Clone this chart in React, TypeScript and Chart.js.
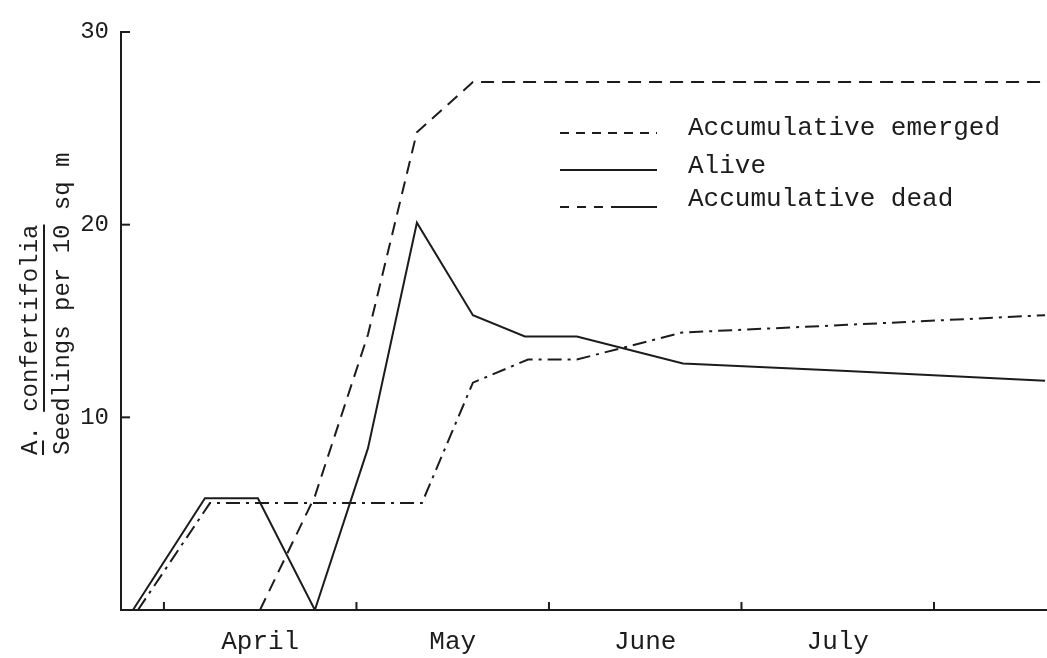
import React, { useEffect, useRef } from 'react';
import { Chart, registerables } from 'chart.js';

Chart.register(...registerables);

// x values are months counted from 1 April (0 = 1 Apr, 1 = 1 May, ...)
const monthLabels = ['April', 'May', 'June', 'July'];
const monthLabelPos = [0.5, 1.5, 2.5, 3.5];
const monthBoundaries = [0, 1, 2, 3, 4];
const yTicks = [10, 20, 30];

const emergedX = [0.499, 0.784, 1.06, 1.314, 1.605, 4.577];
const emergedY = [0, 5.9, 14.3, 24.8, 27.4, 27.4];

const aliveX = [-0.161, 0.213, 0.488, 0.784, 1.06, 1.314, 1.605, 1.875, 2.145, 2.696, 3.548, 4.577];
const aliveY = [0, 5.8, 5.8, 0, 8.4, 20.1, 15.3, 14.2, 14.2, 12.8, 12.4, 11.9];

const deadX = [-0.135, 0.239, 1.34, 1.605, 1.891, 2.145, 2.691, 3.548, 4.577];
const deadY = [0, 5.55, 5.55, 11.8, 13.0, 13.0, 14.4, 14.8, 15.3];

const seriesNames = ['Accumulative emerged', 'Alive', 'Accumulative dead'];

const INK = '#1c1c1c';
const FONT = '"Liberation Mono", "DejaVu Sans Mono", monospace';

const pts = (xs: number[], ys: number[]) => xs.map((x, i) => ({ x, y: ys[i] }));

const innerTicks = {
  id: 'innerTicks',
  afterDraw(chart: any) {
    const { ctx, chartArea, scales } = chart;
    const x = scales.x;
    const y = scales.y;
    ctx.save();
    ctx.strokeStyle = INK;
    ctx.lineWidth = 2;
    monthBoundaries.forEach((v) => {
      const px = x.getPixelForValue(v);
      ctx.beginPath();
      ctx.moveTo(px, chartArea.bottom);
      ctx.lineTo(px, chartArea.bottom - 8);
      ctx.stroke();
    });
    yTicks.forEach((v) => {
      const py = y.getPixelForValue(v);
      ctx.beginPath();
      ctx.moveTo(chartArea.left, py);
      ctx.lineTo(chartArea.left + 9, py);
      ctx.stroke();
    });
    ctx.restore();
  },
};

const customLegend = {
  id: 'customLegend',
  afterDraw(chart: any) {
    const { ctx } = chart;
    const rows = [
      { dash: [9, 7], text: seriesNames[0], lineY: 133, textY: 128 },
      { dash: [], text: seriesNames[1], lineY: 170, textY: 166 },
      { dash: [9, 8, 9, 8, 9, 8, 46, 0], text: seriesNames[2], lineY: 207, textY: 199 },
    ];
    ctx.save();
    ctx.strokeStyle = INK;
    ctx.fillStyle = INK;
    ctx.lineWidth = 2;
    ctx.font = `26px ${FONT}`;
    ctx.textBaseline = 'middle';
    ctx.textAlign = 'left';
    rows.forEach((r) => {
      ctx.setLineDash(r.dash);
      ctx.beginPath();
      ctx.moveTo(560, r.lineY);
      ctx.lineTo(657, r.lineY);
      ctx.stroke();
      ctx.setLineDash([]);
      ctx.fillText(r.text, 688, r.textY);
    });
    ctx.restore();
  },
};

const yTitle = {
  id: 'yTitle',
  afterDraw(chart: any) {
    const { ctx } = chart;
    ctx.save();
    ctx.fillStyle = INK;
    ctx.strokeStyle = INK;
    ctx.font = `24px ${FONT}`;
    ctx.textBaseline = 'middle';
    ctx.textAlign = 'left';
    // first line
    ctx.save();
    ctx.translate(31, 455);
    ctx.rotate(-Math.PI / 2);
    ctx.fillText('A. confertifolia', 0, 0);
    const charW = ctx.measureText('A').width;
    ctx.lineWidth = 2;
    // underline for A
    ctx.beginPath();
    ctx.moveTo(0, 12);
    ctx.lineTo(charW, 12);
    ctx.stroke();
    // fraction bar under "confertifolia"
    ctx.beginPath();
    ctx.moveTo(charW * 3, 13);
    ctx.lineTo(charW * 16, 13);
    ctx.stroke();
    ctx.restore();
    // second line
    ctx.save();
    ctx.translate(63, 455);
    ctx.rotate(-Math.PI / 2);
    ctx.fillText('Seedlings per 10 sq m', 0, 0);
    ctx.restore();
    ctx.restore();
  },
};

export default function App() {
  const ref = useRef<HTMLCanvasElement | null>(null);

  useEffect(() => {
    if (!ref.current) return;
    const chart = new Chart(ref.current, {
      type: 'line',
      data: {
        datasets: [
          {
            label: seriesNames[0],
            data: pts(emergedX, emergedY),
            borderColor: INK,
            borderWidth: 2,
            borderDash: [13, 8],
            pointRadius: 0,
            fill: false,
            tension: 0,
          },
          {
            label: seriesNames[1],
            data: pts(aliveX, aliveY),
            borderColor: INK,
            borderWidth: 2,
            pointRadius: 0,
            fill: false,
            tension: 0,
          },
          {
            label: seriesNames[2],
            data: pts(deadX, deadY),
            borderColor: INK,
            borderWidth: 2,
            borderDash: [14, 6, 3, 6],
            pointRadius: 0,
            fill: false,
            tension: 0,
          },
        ],
      },
      options: {
        animation: false,
        responsive: false,
        events: [],
        layout: { padding: { top: 32, right: 0, left: 0, bottom: 0 } },
        plugins: {
          legend: { display: false },
          tooltip: { enabled: false },
        },
        scales: {
          x: {
            type: 'linear',
            min: -0.223,
            max: 4.587,
            afterBuildTicks: (s: any) => {
              s.ticks = [...monthBoundaries, ...monthLabelPos]
                .sort((a, b) => a - b)
                .map((v) => ({ value: v }));
            },
            afterFit: (s: any) => {
              s.height = 48;
            },
            ticks: {
              autoSkip: false,
              maxRotation: 0,
              minRotation: 0,
              padding: 17,
              color: INK,
              font: { family: FONT, size: 26 },
              callback: (v: any) => {
                const i = monthLabelPos.indexOf(Number(v));
                return i >= 0 ? monthLabels[i] : '';
              },
            },
            grid: { display: true, drawOnChartArea: false, drawTicks: false },
            border: { display: true, color: INK, width: 2 },
          },
          y: {
            type: 'linear',
            min: 0,
            max: 30,
            afterBuildTicks: (s: any) => {
              s.ticks = yTicks.map((v) => ({ value: v }));
            },
            afterFit: (s: any) => {
              s.width = 121;
            },
            ticks: {
              padding: 12,
              color: INK,
              font: { family: FONT, size: 24 },
            },
            grid: { display: true, drawOnChartArea: false, drawTicks: false },
            border: { display: true, color: INK, width: 2 },
          },
        },
      },
      plugins: [innerTicks, customLegend, yTitle],
    });
    return () => chart.destroy();
  }, []);

  return (
    <div style={{ position: 'fixed', left: 0, top: 0, width: 1047, height: 658, background: '#fff' }}>
      <canvas ref={ref} width={1047} height={658} style={{ width: 1047, height: 658, display: 'block' }} />
    </div>
  );
}
